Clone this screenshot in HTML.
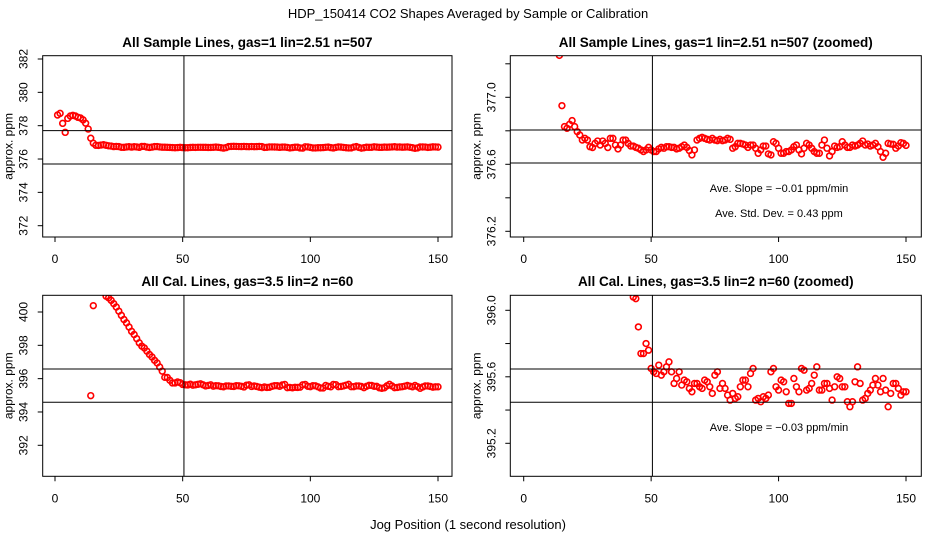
<!DOCTYPE html>
<html><head><meta charset="utf-8"><style>
html,body{margin:0;padding:0;background:#fff;}
svg{display:block;font-family:"Liberation Sans",Arial,sans-serif;}
</style></head><body>
<svg id="chart" width="936" height="540" viewBox="0 0 936 540" xmlns="http://www.w3.org/2000/svg">
<text x="468" y="18" font-size="13" text-anchor="middle">HDP_150414  CO2 Shapes Averaged by Sample or Calibration</text>
<text x="468" y="529" font-size="13" text-anchor="middle">Jog Position (1 second resolution)</text>
</svg>
<script>
// ---- data ----
const sampleX = Array.from({length:150},(_, i)=>i+1);
const sampleValues = [378.64,378.74,378.14,377.6,378.44,378.58,378.62,378.58,378.5,378.46,378.35,378.15,377.8,377.25,
376.95,376.825,376.815,376.839,376.861,376.825,376.795,376.775,376.745,376.755,376.745,376.705,376.700,376.725,376.739,376.715,
376.739,376.725,376.700,376.755,376.755,376.715,376.692,376.715,376.745,376.745,376.725,376.709,376.709,376.701,376.696,
376.686,376.676,376.686,376.701,376.686,376.676,376.676,376.692,376.701,376.696,376.705,376.705,376.701,376.701,376.692,
376.696,376.705,376.715,376.701,376.682,376.656,376.686,376.745,376.755,376.761,376.755,376.749,376.745,376.755,376.745,
376.741,376.749,376.741,376.745,376.755,376.749,376.696,376.705,376.725,376.725,376.721,376.715,376.701,376.715,376.715,
376.696,376.666,376.686,376.709,376.709,376.662,376.656,376.735,376.725,376.696,376.666,376.666,376.676,376.676,376.686,
376.705,376.715,376.686,376.662,376.696,376.725,376.715,376.696,376.676,376.666,376.666,376.715,376.745,376.696,376.650,
376.676,376.709,376.701,376.705,376.735,376.715,376.701,376.701,376.715,376.709,376.715,376.725,376.739,376.715,376.721,
376.709,376.715,376.725,376.705,376.676,376.642,376.666,376.725,376.721,376.719,376.696,376.709,376.729,376.725,376.713];
const calX = Array.from({length:150},(_, i)=>i+1);
const calValues = [null,null,null,null,null,null,null,null,null,null,null,null,null,394.98,400.38,
402.0,401.7,401.45,401.2,400.95,400.85,400.7,400.5,400.3,400.05,399.8,399.55,399.35,399.1,398.84,398.65,398.4,398.15,397.95,397.84,
397.65,397.45,397.3,397.1,396.94,396.7,396.45,396.08,396.07,395.90,395.74,395.74,395.80,395.76,395.65,
395.63,395.62,395.67,395.61,395.63,395.66,395.69,395.63,395.56,395.59,395.63,395.55,395.58,395.57,395.53,395.51,395.56,395.56,395.54,395.53,
395.58,395.57,395.54,395.50,395.61,395.63,395.53,395.56,395.53,395.49,395.46,395.50,395.47,395.48,395.54,395.58,395.58,395.54,395.62,395.65,
395.46,395.47,395.45,395.48,395.47,395.49,395.63,395.65,395.54,395.52,395.58,395.57,395.51,395.44,395.44,395.59,395.54,395.51,395.65,395.64,
395.52,395.53,395.56,395.61,395.66,395.52,395.52,395.56,395.56,395.53,395.46,395.54,395.60,395.59,395.54,395.54,395.45,395.42,395.45,395.57,
395.66,395.56,395.46,395.47,395.50,395.52,395.55,395.59,395.55,395.51,395.59,395.52,395.42,395.50,395.56,395.56,395.53,395.49,395.51,395.51];
const xTicks = [0,50,100,150];
const ticksTL = [372,374,376,378,380,382];
const labelsTL = ["372","374","376","378","380","382"];
const ticksTR = [376.2,376.4,376.6,376.8,377.0,377.2];
const labelsTR = ["376.2","","376.6","","377.0",""];
const ticksBL = [392,394,396,398,400];
const labelsBL = ["392","394","396","398","400"];
const ticksBR = [395.2,395.4,395.6,395.8,396.0];
const labelsBR = ["395.2","","395.6","","396.0"];
const hlinesSample = [377.70,375.70];
const hlinesSampleZoom = [376.805,376.608];
const hlinesCal = [396.58,394.58];
const hlinesCalZoom = [395.647,395.447];
const vlineX = 50.5;
const titles = ["All Sample Lines, gas=1 lin=2.51 n=507","All Sample Lines, gas=1 lin=2.51 n=507 (zoomed)","All Cal. Lines, gas=3.5 lin=2 n=60","All Cal. Lines, gas=3.5 lin=2 n=60 (zoomed)"];

// ---- layout ----
const NS="http://www.w3.org/2000/svg";
const svg=document.getElementById('chart');
function mk(tag,attrs,parent){const e=document.createElementNS(NS,tag);for(const k in attrs)e.setAttribute(k,attrs[k]);(parent||svg).appendChild(e);return e;}

const panels=[
 {id:'tl',L:42.7,R:452,T:55.7,B:237,x0:55,x150:438,ya:[382,59],yb:[372,225.7],ticks:ticksTL,labels:labelsTL,h:hlinesSample,xs:sampleX,vs:sampleValues,title:titles[0],ty:47},
 {id:'tr',L:510.3,R:921.3,T:55.7,B:237,x0:523.7,x150:906,ya:[377.0,97.3],yb:[376.2,231.3],ticks:ticksTR,labels:labelsTR,h:hlinesSampleZoom,xs:sampleX,vs:sampleValues,title:titles[1],ty:47,
  notes:[["Ave. Slope =  \u22120.01  ppm/min",188],["Ave. Std. Dev. =  0.43  ppm",213]]},
 {id:'bl',L:42.7,R:452,T:295.3,B:476.3,x0:55,x150:438,ya:[400,312],yb:[392,445.3],ticks:ticksBL,labels:labelsBL,h:hlinesCal,xs:calX,vs:calValues,title:titles[2],ty:286},
 {id:'br',L:510.3,R:921.3,T:295.3,B:476.3,x0:523.7,x150:906,ya:[396.0,310.3],yb:[395.2,443.3],ticks:ticksBR,labels:labelsBR,h:hlinesCalZoom,xs:calX,vs:calValues,title:titles[3],ty:286,
  notes:[["Ave. Slope =  \u22120.03  ppm/min",427]]}
];

panels.forEach(p=>{
  const g=mk('g',{});
  
  
  const xs=v=>p.x0+(v/150)*(p.x150-p.x0);
  const ys=v=>p.ya[1]+(v-p.ya[0])*(p.yb[1]-p.ya[1])/(p.yb[0]-p.ya[0]);
  const t=mk('text',{x:(p.L+p.R)/2,y:p.ty,'font-size':13.5,'font-weight':'bold','text-anchor':'middle'},g);
  t.textContent=p.title;
  
  
  const cp=mk('clipPath',{id:'clip-'+p.id},g);
  mk('rect',{x:p.L,y:p.T,width:p.R-p.L,height:p.B-p.T},cp);
  const pg=mk('g',{'clip-path':'url(#clip-'+p.id+')'},g);
  
  
  p.vs.forEach((v,i)=>{
    if(v===null)return;
    const c=mk('circle',{cx:xs(p.xs[i]),cy:ys(v),r:2.9,fill:'none',stroke:'#ff0000','stroke-width':1.6},pg);
    
    
  });
  p.h.forEach(v=>{
    const l=mk('line',{x1:p.L,x2:p.R,y1:ys(v),y2:ys(v),stroke:'#000','stroke-width':1},g);
    
    
  });
  const vl=mk('line',{x1:xs(vlineX),x2:xs(vlineX),y1:p.T,y2:p.B,stroke:'#000','stroke-width':1},g);
  
  
  const b=mk('rect',{x:p.L,y:p.T,width:p.R-p.L,height:p.B-p.T,fill:'none',stroke:'#000','stroke-width':1},g);
  
  
  xTicks.forEach(v=>{
    mk('line',{x1:xs(v),x2:xs(v),y1:p.B,y2:p.B+5,stroke:'#000'},g);
    const tl=mk('text',{x:xs(v),y:p.B+26,'font-size':12,'text-anchor':'middle'},g);
    tl.textContent=String(v);
    
    
  });
  p.ticks.forEach((v,i)=>{
    const y=ys(v);
    mk('line',{x1:p.L-5,x2:p.L,y1:y,y2:y,stroke:'#000'},g);
    if(p.labels[i]){
      const lx=p.L-15;
      const tl=mk('text',{x:lx,y:y,'font-size':12,'text-anchor':'middle',transform:'rotate(-90 '+lx+' '+y+')'},g);
      tl.textContent=p.labels[i];
      
      
    }
  });
  const ax=p.L-30, ay=(p.T+p.B)/2;
  const yl=mk('text',{x:ax,y:ay,'font-size':12,'text-anchor':'middle',transform:'rotate(-90 '+ax+' '+ay+')'},g);
  yl.textContent='approx. ppm';
  
  
  (p.notes||[]).forEach(n=>{
    const nt=mk('text',{x:779,y:n[1]+4,'font-size':11,'text-anchor':'middle','xml:space':'preserve'},g);
    nt.textContent=n[0];
    
    
  });
});
</script>
</body></html>
